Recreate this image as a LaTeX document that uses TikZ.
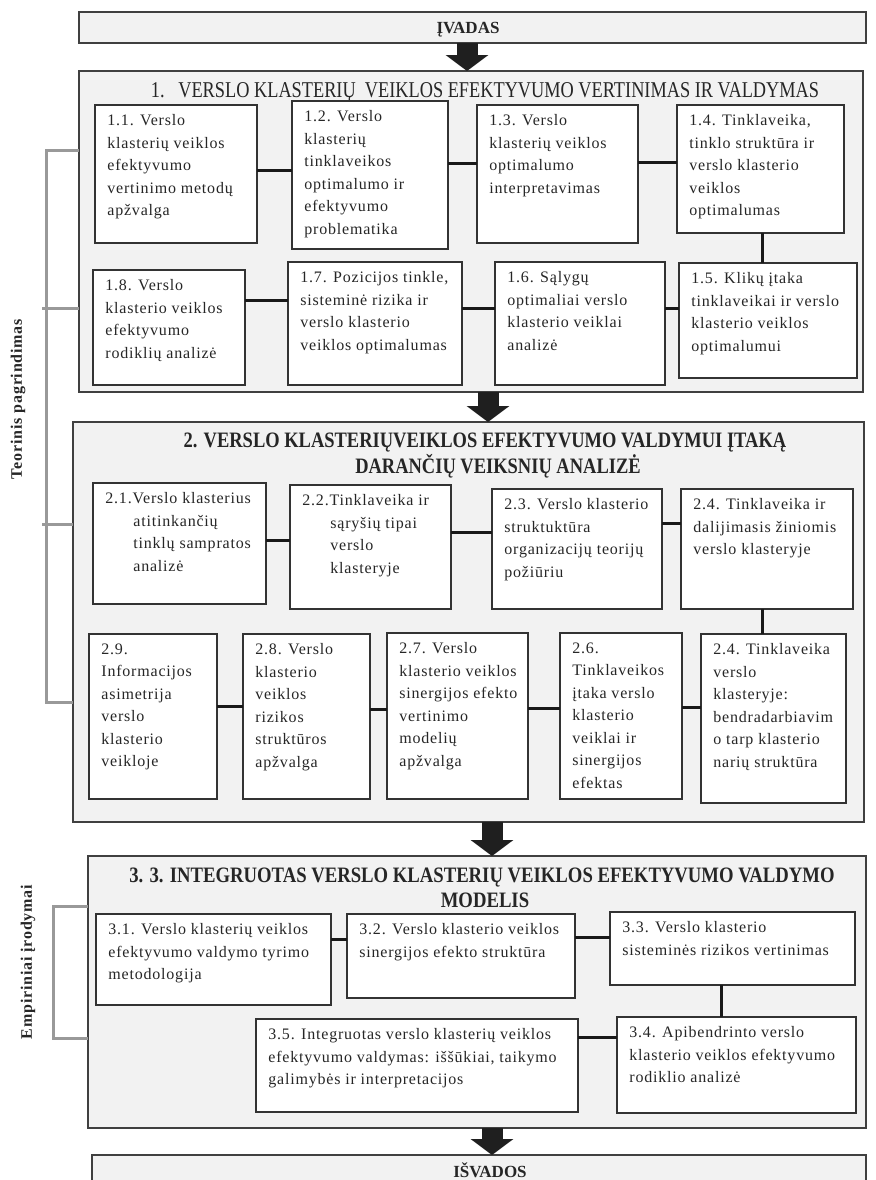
\documentclass[tikz,border=0pt]{standalone}
\usepackage{fontspec}
\usepackage{graphicx}
\setmainfont{Liberation Serif}
\newfontfamily\cellfam{Liberation Serif}[LetterSpace=5]
\usetikzlibrary{arrows.meta}

\tikzset{
  panel/.style={draw=black!75, line width=0.75pt, fill=black!5, inner sep=0pt, outer sep=0pt},
  cellbox/.style={draw=black!80, line width=0.85pt, fill=white, inner sep=0pt, outer sep=0pt},
  celltext/.style={anchor=north west, inner sep=0pt, align=left, text=black!85,
    font=\cellfam\fontsize{8}{11.25}\selectfont},
  conn/.style={draw=black!90, line width=1.5pt},
  brace/.style={draw=black!40, line width=1.5pt},
  bigarrow/.style={draw=black!88, line width=10.5pt, -{Triangle[width=21pt,length=8pt]}},
  ttl/.style={anchor=base, inner sep=0pt, text=black!85, font=\fontsize{11}{12}\selectfont\bfseries},
  ttlreg/.style={anchor=base, inner sep=0pt, text=black!85, font=\fontsize{11.3}{12}\selectfont},
  endttl/.style={anchor=base, inner sep=0pt, text=black!85, font=\fontsize{8.5}{10}\selectfont\bfseries},
  sidelbl/.style={rotate=90, inner sep=0pt, text=black!85, font=\cellfam\fontsize{8}{10}\selectfont\bfseries},
}

% box with top-left aligned text: name, x1, y1, x2, y2, text (pixel units)
\newcommand\cell[6]{%
  \pgfmathsetmacro\cw{(#4-#2)/2}%
  \pgfmathsetmacro\ch{(#5-#3)/2}%
  \node[cellbox, minimum width=\cw pt, minimum height=\ch pt] (#1) at ({(#2+#4)/2},{(#3+#5)/2}) {};%
  \node[celltext] (#1-t) at ([xshift=6pt,yshift=-4.5pt]#1.north west) {#6};%
}
% grey panel: name, x1, y1, x2, y2, fill style
\newcommand\panelbox[6]{%
  \pgfmathsetmacro\cw{(#4-#2)/2}%
  \pgfmathsetmacro\ch{(#5-#3)/2}%
  \node[#6, minimum width=\cw pt, minimum height=\ch pt] (#1) at ({(#2+#4)/2},{(#3+#5)/2}) {};%
}

\begin{document}
\begin{tikzpicture}[x=0.5pt,y=-0.5pt]
\useasboundingbox (0,0) rectangle (875,1180);
\clip (0,0) rectangle (875,1180);
\fill[white] (0,0) rectangle (875,1180);

% ---------- introduction ----------
\panelbox{ivadas}{79}{12}{866}{43}{panel}
\node[endttl] (ivadas-t) at (468,33) {ĮVADAS};

% ---------- section 1 ----------
\panelbox{s1}{79}{71}{863}{392}{panel}
\node[ttlreg] (s1-t) at (485,97) {\scalebox{0.81}[1]{1.\enspace\ VERSLO KLASTERIŲ\ \ VEIKLOS EFEKTYVUMO VERTINIMAS IR VALDYMAS}};

\cell{c11}{95}{105}{257}{243}{1.1. Verslo\\klasterių veiklos\\efektyvumo\\vertinimo metodų\\apžvalga}
\cell{c12}{292}{101}{448}{249}{1.2. Verslo\\klasterių\\tinklaveikos\\optimalumo ir\\efektyvumo\\problematika}
\cell{c13}{477}{105}{638}{243}{1.3. Verslo\\klasterių veiklos\\optimalumo\\interpretavimas}
\cell{c14}{677}{105}{844}{233}{1.4. Tinklaveika,\\tinklo struktūra ir\\verslo klasterio\\veiklos\\optimalumas}
\cell{c18}{93}{270}{245}{385}{1.8. Verslo\\klasterio veiklos\\efektyvumo\\rodiklių analizė}
\cell{c17}{288}{262}{462}{385}{1.7. Pozicijos tinkle,\\sisteminė rizika ir\\verslo klasterio\\veiklos optimalumas}
\cell{c16}{495}{262}{665}{385}{1.6. Sąlygų\\optimaliai verslo\\klasterio veiklai\\analizė}
\cell{c15}{679}{263}{857}{378}{1.5. Klikų įtaka\\tinklaveikai ir verslo\\klasterio veiklos\\optimalumui}

\draw[conn] (c11.east |- 0,170) -- (c12.west |- 0,170);
\draw[conn] (c12.east |- 0,163) -- (c13.west |- 0,163);
\draw[conn] (c13.east |- 0,162) -- (c14.west |- 0,162);
\draw[conn] (c14.south -| 762,0) -- (c15.north -| 762,0);
\draw[conn] (c18.east |- 0,300) -- (c17.west |- 0,300);
\draw[conn] (c17.east |- 0,308) -- (c16.west |- 0,308);
\draw[conn] (c16.east |- 0,308) -- (c15.west |- 0,308);

% ---------- section 2 ----------
\panelbox{s2}{73}{422}{864}{822}{panel}
\node[ttl] (s2-t1) at (485,447) {\scalebox{0.84}[1]{2. VERSLO KLASTERIŲVEIKLOS EFEKTYVUMO VALDYMUI ĮTAKĄ}};
\node[ttl] (s2-t2) at (498,473) {\scalebox{0.84}[1]{DARANČIŲ VEIKSNIŲ ANALIZĖ}};

\cell{c21}{93}{483}{266}{604}{2.1.Verslo klasterius\\\hspace*{14pt}atitinkančių\\\hspace*{14pt}tinklų sampratos\\\hspace*{14pt}analizė}
\cell{c22}{290}{485}{451}{609}{2.2.Tinklaveika ir\\\hspace*{14pt}sąryšių tipai\\\hspace*{14pt}verslo\\\hspace*{14pt}klasteryje}
\cell{c23}{492}{489}{662}{609}{2.3. Verslo klasterio\\struktuktūra\\organizacijų teorijų\\požiūriu}
\cell{c24}{681}{489}{853}{609}{2.4. Tinklaveika ir\\dalijimasis žiniomis\\verslo klasteryje}
\cell{c29}{89}{634}{217}{799}{2.9.\\Informacijos\\asimetrija\\verslo\\klasterio\\veikloje}
\cell{c28}{243}{634}{370}{799}{2.8. Verslo\\klasterio\\veiklos\\rizikos\\struktūros\\apžvalga}
\cell{c27}{387}{633}{528}{799}{2.7. Verslo\\klasterio veiklos\\sinergijos efekto\\vertinimo\\modelių\\apžvalga}
\cell{c26}{560}{633}{682}{799}{2.6.\\Tinklaveikos\\įtaka verslo\\klasterio\\veiklai ir\\sinergijos\\efektas}
\cell{c25}{701}{634}{846}{803}{2.4. Tinklaveika\\verslo\\klasteryje:\\bendradarbiavim\\o tarp klasterio\\narių struktūra}

\draw[conn] (c21.east |- 0,540) -- (c22.west |- 0,540);
\draw[conn] (c22.east |- 0,532) -- (c23.west |- 0,532);
\draw[conn] (c23.east |- 0,523) -- (c24.west |- 0,523);
\draw[conn] (c24.south -| 762,0) -- (c25.north -| 762,0);
\draw[conn] (c29.east |- 0,706) -- (c28.west |- 0,706);
\draw[conn] (c28.east |- 0,709) -- (c27.west |- 0,709);
\draw[conn] (c27.east |- 0,708) -- (c26.west |- 0,708);
\draw[conn] (c26.east |- 0,707) -- (c25.west |- 0,707);

% ---------- section 3 ----------
\panelbox{s3}{88}{856}{866}{1128}{panel}
\node[ttl] (s3-t1) at (482,882) {\scalebox{0.85}[1]{3. 3. INTEGRUOTAS VERSLO KLASTERIŲ VEIKLOS EFEKTYVUMO VALDYMO}};
\node[ttl] (s3-t2) at (485,907) {\scalebox{0.85}[1]{MODELIS}};

\cell{c31}{96}{914}{331}{1005}{3.1. Verslo klasterių veiklos\\efektyvumo valdymo tyrimo\\metodologija}
\cell{c32}{347}{914}{575}{998}{3.2. Verslo klasterio veiklos\\sinergijos efekto struktūra}
\cell{c33}{610}{912}{855}{985}{3.3. Verslo klasterio\\sisteminės rizikos vertinimas}
\cell{c35}{256}{1019}{578}{1112}{3.5. Integruotas verslo klasterių veiklos\\efektyvumo valdymas: iššūkiai, taikymo\\galimybės ir interpretacijos}
\cell{c34}{617}{1017}{856}{1113}{3.4. Apibendrinto verslo\\klasterio veiklos efektyvumo\\rodiklio analizė}

\draw[conn] (c31.east |- 0,939) -- (c32.west |- 0,939);
\draw[conn] (c32.east |- 0,937) -- (c33.west |- 0,937);
\draw[conn] (c33.south -| 721,0) -- (c34.north -| 721,0);
\draw[conn] (c35.east |- 0,1037) -- (c34.west |- 0,1037);

% ---------- conclusions ----------
\panelbox{isvados}{92}{1155}{866}{1200}{panel}
\node[endttl] (isvados-t) at (490,1177) {IŠVADOS};

% ---------- flow arrows ----------
\coordinate (ax1) at (467,0);
\coordinate (ax2) at (488,0);
\coordinate (ax3) at (492,0);
\draw[bigarrow] (ivadas.south -| ax1) -- (s1.north -| ax1);
\draw[bigarrow] (s1.south -| ax2) -- (s2.north -| ax2);
\draw[bigarrow] (s2.south -| ax3) -- (s3.north -| ax3);
\draw[bigarrow] (s3.south -| ax3) -- (isvados.north -| ax3);

% ---------- side brackets ----------
\coordinate (tp1) at (46,150);
\coordinate (tp2) at (46,702);
\coordinate (tpk1) at (42,308);
\coordinate (tpk2) at (42,524);
\draw[brace] (s1.west |- tp1) -- (tp1) -- (tp2) -- (s2.west |- tp2);
\draw[brace] (tpk1) -- (s1.west |- tpk1);
\draw[brace] (tpk2) -- (s2.west |- tpk2);
\node[sidelbl] (tp-lbl) at (18,399) {Teorinis pagrindimas};

\coordinate (ep1) at (53,906);
\coordinate (ep2) at (53,1038);
\draw[brace] (s3.west |- ep1) -- (ep1) -- (ep2) -- (s3.west |- ep2);
\node[sidelbl] (ep-lbl) at (28,962) {Empiriniai įrodymai};
\end{tikzpicture}
\end{document}
